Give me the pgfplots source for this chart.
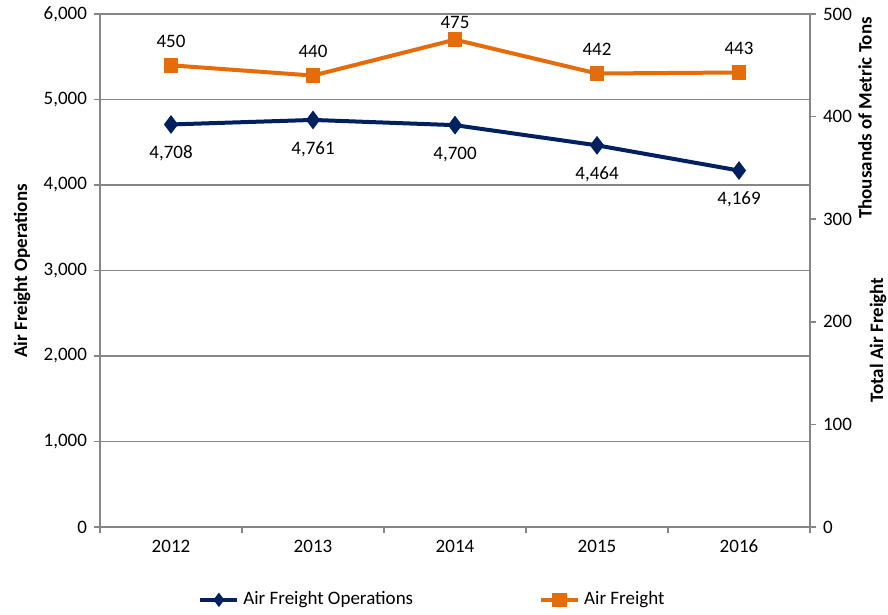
\documentclass[border=0pt]{standalone}
\usepackage{fontspec}
\setmainfont{Carlito}
\usepackage{pgfplots}
\pgfplotsset{compat=1.18}

\definecolor{opsblue}{RGB}{0,32,96}
\definecolor{frtorange}{RGB}{228,108,10}
\definecolor{axgray}{RGB}{134,134,134}
\newcommand{\ff}{\fontsize{9.5pt}{11pt}\selectfont}

\pgfplotsset{
  base/.style={
    scale only axis,
    width=355pt, height=256.5pt,
    xmin=-0.5, xmax=4.5,
    tick align=outside,
    axis line style={axgray, line width=1pt},
    tick style={axgray, line width=0.75pt},
    major tick length=3pt, minor tick length=3pt,
    tick label style={font=\ff},
    /pgf/number format/.cd, 1000 sep={,}, assume math mode=true,
  },
}

\begin{document}
\begin{tikzpicture}
\useasboundingbox (-50pt,-44pt) rectangle (394pt,263.5pt);

\begin{axis}[
  base,
  axis x line*=bottom, axis y line*=left,
  ymin=0, ymax=6000,
  ytick={0,1000,...,6000},
  xtick={0,...,4},
  xticklabels={2012,2013,2014,2015,2016},
  major x tick style={draw=none},
  minor xtick={-0.5,0.5,...,4.5},
  ymajorgrids,
  major grid style={axgray, line width=0.75pt},
  nodes near coords,
  nodes near coords style={font=\ff, text=black, anchor=center, yshift=-14.5pt,
    /pgf/number format/.cd, 1000 sep={,}},
]
\addplot[opsblue, line width=2pt, mark=diamond*, mark size=4.3pt,
  mark options={solid, fill=opsblue, line width=0.5pt}]
  coordinates {(0,4708) (1,4761) (2,4700) (3,4464) (4,4169)};
\end{axis}

\begin{axis}[
  base,
  axis x line=none, axis y line*=right,
  ymin=0, ymax=500,
  ytick={0,100,...,500},
  nodes near coords,
  visualization depends on={\thisrow{dy} \as \dy},
  nodes near coords style={font=\ff, text=black, anchor=center, yshift=\dy pt},
  legend style={at={(0.138,-0.142)}, anchor=west, draw=none, fill=none,
    inner sep=0pt, font=\ff, legend columns=2,
    /tikz/every even column/.append style={column sep=61pt}},
  legend cell align=left,
  legend image code/.code={
    \draw[mark repeat=2, mark phase=2, #1]
      plot coordinates {(0pt,0pt) (9.25pt,0pt) (18.5pt,0pt)};},
]
\addlegendimage{opsblue, line width=2pt, mark=diamond*, mark size=3.2pt,
  mark options={solid, fill=opsblue, line width=0.5pt}}
\addlegendentry{Air Freight Operations}
\addplot[frtorange, line width=2pt, mark=square*, mark size=3.4pt,
  mark options={solid, fill=frtorange, line width=0.5pt}]
  table[x=x, y=y] {
x y dy
0 450 12
1 440 12
2 475 8.5
3 442 12
4 443 12
};
\addlegendentry{Air Freight}
\end{axis}

\node[rotate=90, font=\ff\bfseries] at (-39pt,128pt) {Air Freight Operations};
\node[rotate=90, font=\ff\bfseries] at (382.5pt,204.5pt) {Thousands of Metric Tons};
\node[rotate=90, font=\ff\bfseries] at (389pt,93.5pt) {Total Air Freight};
\end{tikzpicture}
\end{document}
